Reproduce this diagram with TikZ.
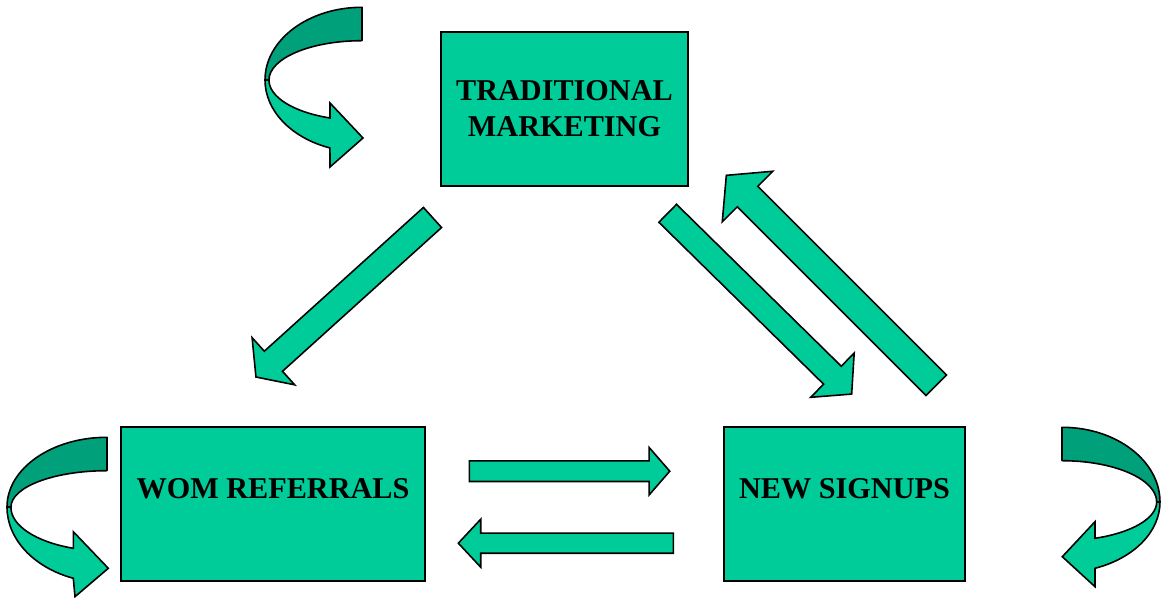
\documentclass[tikz,border=0pt]{standalone}
\usepackage{xcolor}
\usepackage{fontspec}
\setmainfont{Liberation Serif}
\usepackage{tikz}
\usetikzlibrary{shapes,arrows,positioning}
\definecolor{mint}{HTML}{00CC99}
\definecolor{mintdark}{HTML}{00A07A}

\begin{document}
\begin{tikzpicture}[
        x=0.02cm, y=-0.02cm,
        box/.style={draw, line width=1.1pt, fill=mint, minimum height=3.08cm, inner sep=0pt},
        boxtext/.style={font=\fontsize{17.2}{20.4}\selectfont\bfseries, align=center, inner sep=0pt},
        blockarrow/.style={single arrow, draw, line width=0.9pt, fill=mint, inner xsep=0pt, outer sep=0pt, anchor=tail},
        bandtop/.style={draw, line width=0.9pt, fill=mintdark, line join=round},
        bandlow/.style={draw, line width=0.9pt, fill=mint, line join=miter}
    ]
        \useasboundingbox (0,0) rectangle (1161,598);

        % Boxes
        \node[box, minimum width=4.94cm] (TM) at (564.5,109) {};
        \node[boxtext] (TMtext) at (TM.center) {TRADITIONAL\\MARKETING};
        \node[box, minimum width=6.08cm] (WOM) at (273,504) {};
        \node[boxtext] (WOMtext) at ([yshift=0.31cm]WOM.center) {WOM REFERRALS};
        \node[box, minimum width=4.82cm] (NS) at (844.5,504) {};
        \node[boxtext] (NStext) at ([yshift=0.31cm]NS.center) {NEW SIGNUPS};

        % Straight arrows
        \node[blockarrow, rotate=222.1, minimum height=4.76cm, inner ysep=0.255cm, single arrow head extend=0.365cm, single arrow tip angle=107] (TMtoWOM) at (432.5,217.5) {};
        \node[blockarrow, rotate=-44.5, minimum height=5.16cm, inner ysep=0.236cm, single arrow head extend=0.369cm, single arrow tip angle=98] (TMtoNS) at (667.7,213.3) {};
        \node[blockarrow, rotate=135, minimum height=5.94cm, inner ysep=0.273cm, single arrow head extend=0.427cm, single arrow tip angle=100] (NStoTM) at (936.3,385.3) {};
        \node[blockarrow, rotate=0, minimum height=4.01cm, inner ysep=0.19cm, single arrow head extend=0.27cm, single arrow tip angle=98] (WOMtoNS) at (469.3,471.2) {};
        \node[blockarrow, rotate=180, minimum height=4.3cm, inner ysep=0.185cm, single arrow head extend=0.28cm, single arrow tip angle=94] (NStoWOM) at (673.3,543.2) {};

        % Curved arrow above
        \draw[bandtop] (362,7.3) arc[start angle=270, end angle=180, x radius=97, y radius=72.7]
            -- (269,80) arc[start angle=180, end angle=270, x radius=93, y radius=39.3] -- cycle;
        \draw[bandlow] (265,80) arc[start angle=180, end angle=109.3, x radius=97, y radius=72]
            -- (330,167) -- (363,138) -- (330,103) -- (330,118)
            arc[start angle=110.1, end angle=180, x radius=93, y radius=40.5] -- cycle;

        % Curved arrow left
        \draw[bandtop] (107,437.3) arc[start angle=270, end angle=180, x radius=100, y radius=69.7]
            -- (11,507) arc[start angle=180, end angle=270, x radius=96, y radius=36.3] -- cycle;
        \draw[bandlow] (7,507) arc[start angle=180, end angle=109.7, x radius=100, y radius=75.7]
            -- (75,596.7) -- (108.3,568.3) -- (73.3,531.7) -- (73.3,548.3)
            arc[start angle=110.5, end angle=180, x radius=96, y radius=43.8] -- cycle;

        % Curved arrow right
        \draw[bandtop] (1062,427.3) arc[start angle=270, end angle=360, x radius=98, y radius=74.7]
            -- (1156.7,502) arc[start angle=360, end angle=270, x radius=94.7, y radius=41.3] -- cycle;
        \draw[bandlow] (1160,502) arc[start angle=0, end angle=70.3, x radius=98, y radius=70.4]
            -- (1095,586.7) -- (1062.3,556.7) -- (1095,521.7) -- (1095,538.3)
            arc[start angle=69.6, end angle=0, x radius=94.7, y radius=38.7] -- cycle;
\end{tikzpicture}
\end{document}
